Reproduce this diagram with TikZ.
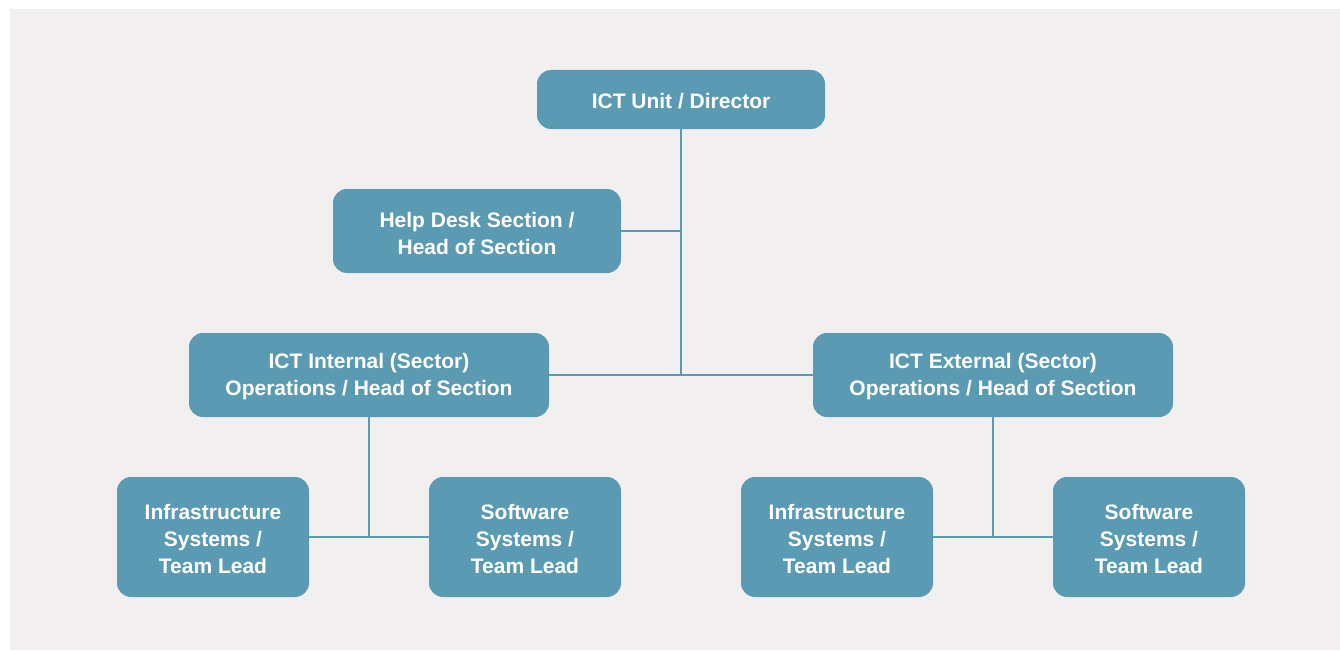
\documentclass[tikz,border=0pt]{standalone}
\usepackage{fontspec}
\setmainfont{Liberation Sans}
\definecolor{boxblue}{HTML}{5A9AB2}
\definecolor{bggray}{HTML}{F1EFEF}
\begin{document}
\begin{tikzpicture}[x=1pt,y=-1pt,
  orgbox/.style={draw=none,fill=boxblue,rounded corners=14pt,inner sep=0pt,
    minimum width=#1,anchor=center},
  orgtext/.style={text=white,font=\fontsize{21}{27}\selectfont\bfseries,
    align=center,inner sep=0pt,anchor=center,yshift=-2pt},
  link/.style={draw=boxblue,line width=2pt}]
\useasboundingbox (0,0) rectangle (1340,650);
\fill[bggray] (10,9) rectangle (1340,650);
\node[orgbox=288pt,minimum height=59pt] (dir) at (681,99.5) {};
\node[orgbox=288pt,minimum height=84pt] (help) at (477,231) {};
\node[orgbox=360pt,minimum height=84pt] (int) at (369,375) {};
\node[orgbox=360pt,minimum height=84pt] (ext) at (993,375) {};
\node[orgbox=192pt,minimum height=120pt] (infl) at (213,537) {};
\node[orgbox=192pt,minimum height=120pt] (softl) at (525,537) {};
\node[orgbox=192pt,minimum height=120pt] (infr) at (837,537) {};
\node[orgbox=192pt,minimum height=120pt] (softr) at (1149,537) {};
\node[orgtext] (dirt) at (dir.center) {ICT Unit / Director};
\node[orgtext] (helpt) at (help.center) {Help Desk Section /\\Head of Section};
\node[orgtext] (intt) at (int.center) {ICT Internal (Sector)\\Operations / Head of Section};
\node[orgtext] (extt) at (ext.center) {ICT External (Sector)\\Operations / Head of Section};
\node[orgtext] (inflt) at (infl.center) {Infrastructure\\Systems /\\Team Lead};
\node[orgtext] (softlt) at (softl.center) {Software\\Systems /\\Team Lead};
\node[orgtext] (infrt) at (infr.center) {Infrastructure\\Systems /\\Team Lead};
\node[orgtext] (softrt) at (softr.center) {Software\\Systems /\\Team Lead};
\coordinate (hub) at (dir.south |- int.east);
\draw[link] (dir.south) -- (hub);
\draw[link] (help.east) -- (help.east -| dir.south);
\draw[link] (int.east) -- (ext.west);
\draw[link] (int.south) -- (int.south |- infl.east);
\draw[link] (infl.east) -- (softl.west);
\draw[link] (ext.south) -- (ext.south |- infr.east);
\draw[link] (infr.east) -- (softr.west);
\end{tikzpicture}
\end{document}
